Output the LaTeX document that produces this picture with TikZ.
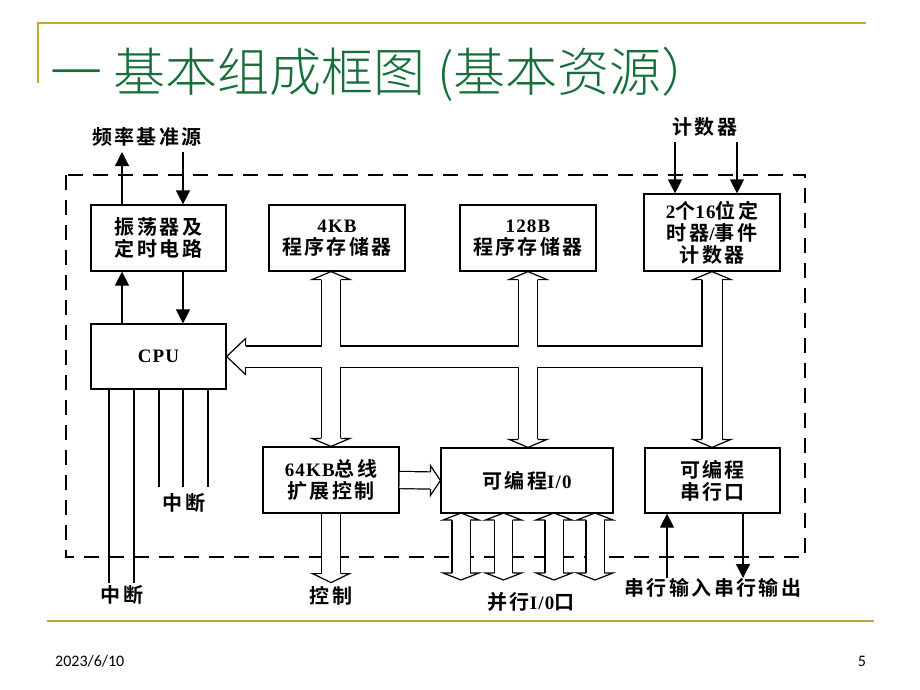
\documentclass[tikz,border=0pt]{standalone}
\usepackage{fontspec}
\newfontfamily\lbl{Noto Sans CJK SC}[UprightFont={* Bold},LetterSpace=12]
\newfontfamily\ttlfont{Noto Sans CJK SC}[UprightFont={* Light}]
\newfontfamily\latb{Liberation Serif}[UprightFont={* Bold},LetterSpace=6]
\newfontfamily\footfont{Carlito}
\usetikzlibrary{arrows.meta,calc,positioning}
\definecolor{titlegreen}{RGB}{22,110,56}
\definecolor{rulegold}{RGB}{196,168,48}
\newcommand\ltn[1]{{\latb\fontsize{19}{22}\selectfont #1}}
% hollow bus head: tip, angle, length, half width, band half width
\newcommand\bushead[5]{%
  \fill[white,shift={#1},rotate=#2] (0,0) -- (-#3,-#4) -- (-#3,#4) -- cycle;
  \draw[bus edge,shift={#1},rotate=#2] (-#3,-#5) -- (-#3,-#4) -- (0,0) -- (-#3,#4) -- (-#3,#5);}

\begin{document}
\begin{tikzpicture}[x=1pt,y=-1pt,
    blk/.style={draw, line width=1.2pt, align=center, inner sep=0pt, font=\lbl\fontsize{20}{22}\selectfont},
    tag/.style={font=\lbl\fontsize{20}{22}\selectfont, inner sep=0pt},
    sig/.style={line width=1.2pt, -{Triangle[length=14pt,width=14pt]}},
    wire/.style={line width=1.2pt},
    bus edge/.style={line width=1.2pt, line join=miter},
    busline/.style={line width=#1+2.4pt},
    busfill/.style={white, line width=#1},
    dashframe/.style={dash pattern=on 15pt off 10pt, line width=1.3pt},
    goldrule/.style={rulegold, line width=2.5pt}
]
    \useasboundingbox (0,0) rectangle (920,690);

    % Slide frame
    \draw[goldrule] (38,83) -- (38,23) -- (866,23);
    \draw[goldrule] (47,621) -- (874,621);
    \node[anchor=base west, font=\ttlfont\fontsize{52}{52}\selectfont, text=titlegreen, inner sep=0pt] (ttl) at (50,92) {一 基本组成框图 (基本资源）};
    \node[anchor=west, font=\footfont\fontsize{16}{16}\selectfont, inner sep=0pt] (date) at (55,661) {2023/6/10};
    \node[font=\footfont\fontsize{16}{16}\selectfont, inner sep=0pt] (page) at (862,661) {5};

    % Chip border
    \draw[dashframe] (66,175) rectangle (805,557);

    % Blocks
    \node[blk, minimum width=135pt, minimum height=66pt] (osc) at (158.5,238) {振荡器及\\定时电路};
    \node[blk, minimum width=135pt, minimum height=65pt] (cpu) at (158.5,356.5) {\ltn{CPU}};
    \node[blk, minimum width=136pt, minimum height=66pt] (rom) at (337,238) {\ltn{4KB}\\程序存储器};
    \node[blk, minimum width=136pt, minimum height=66pt] (ram) at (528,238) {\ltn{128B}\\程序存储器};
    \node[blk, minimum width=136pt, minimum height=77pt] (timer) at (712,232.5) {\ltn{2}个\ltn{16}位定\\时器\ltn{/}事件\\计数器};
    \node[blk, minimum width=136pt, minimum height=66pt] (ext) at (331,480) {\ltn{64KB}总线\\扩展控制};
    \node[blk, minimum width=172pt, minimum height=65pt] (pio) at (527,480.5) {可编程\ltn{I/0}};
    \node[blk, minimum width=135pt, minimum height=65pt] (sio) at (712.5,480.5) {可编程\\串行口};

    % Outside signals
    \node[tag] (freq) at (147,137) {频率基准源};
    \node[tag] (cnt) at (705,127) {计数器};
    \node[tag] (int1) at (122,595) {中断};
    \node[tag] (int2) at (184,503) {中断};
    \node[tag] (ctl) at (331,596) {控制};
    \node[tag] (par) at (531,602) {并行\ltn{I/0}口};
    \node[tag] (ser) at (713,588) {串行输入串行输出};

    \coordinate (fup) at (122,152);
    \coordinate (fdn) at (183,152);
    \coordinate (c1) at (675,142);
    \coordinate (c2) at (737,142);
    \coordinate (sin) at (667,578);
    \coordinate (sout) at (743,578);

    \draw[sig] (osc.north -| fup) -- (fup);
    \draw[sig] (fdn) -- (osc.north -| fdn);
    \draw[sig] (cpu.north -| fup) -- (osc.south -| fup);
    \draw[sig] (osc.south -| fdn) -- (cpu.north -| fdn);
    \draw[sig] (c1) -- (timer.north -| c1);
    \draw[sig] (c2) -- (timer.north -| c2);
    \draw[sig] (sin) -- (sio.south -| sin);
    \draw[sig] (sio.south -| sout) -- (sout);
    \foreach \x/\y in {109/583,134/583,159/487,183/487,208/487}
        \draw[wire] (cpu.south -| \x,\y) -- (\x,\y);

    % Buses
    \coordinate (hb) at ($(cpu.east)+(19,0)$);
    \coordinate (hj) at (timer.south |- cpu.east);
    \coordinate (ra) at ($(rom.south -| ext.north)+(0,8)$);
    \coordinate (rb) at ($(ext.north)+(0,-8)$);
    \coordinate (ma) at ($(ram.south)+(0,8)$);
    \coordinate (mb) at ($(ram.south |- pio.north)+(0,-8)$);
    \coordinate (ta) at ($(timer.south)+(0,8)$);
    \coordinate (tb) at ($(sio.north -| timer.south)+(0,-8)$);
    \coordinate (eb) at ($(pio.west)+(-10,0)$);
    \coordinate (dt) at ($(ext.south)+(0,69)$);
    \coordinate (db) at ($(dt)+(0,-9)$);

    \draw[busline=20pt] (hb) -- (hj);
    \draw[busline=18pt] (ra) -- (rb);
    \draw[busline=18pt] (ma) -- (mb);
    \draw[busline=19pt] (ta) -- (tb);
    \draw[busline=16pt] (ext.east) -- (eb);
    \draw[busline=18pt] (ext.south) -- (db);
    \foreach \x in {461,503.5,554,595}
        \draw[busline=17pt] (\x,520) -- (\x,573);

    \draw[busfill=20pt] (hb) -- (hj);
    \draw[busfill=18pt] (ra) -- (rb);
    \draw[busfill=18pt] (ma) -- (mb);
    \draw[busfill=19pt] (ta) -- (tb);
    \draw[busfill=16pt] (ext.east) -- (eb);
    \draw[busfill=18pt] (ext.south) -- (db);
    \foreach \x in {461,503.5,554,595}
        \draw[busfill=17pt] (\x,520) -- (\x,573);

    \bushead{(cpu.east)}{180}{19}{18}{10.6}
    \bushead{(rom.south -| ext.north)}{90}{8}{19}{9.6}
    \bushead{(ext.north)}{-90}{8}{19}{9.6}
    \bushead{(ram.south)}{90}{8}{19}{9.6}
    \bushead{(ram.south |- pio.north)}{-90}{8}{19}{9.6}
    \bushead{(timer.south)}{90}{8}{19}{10.1}
    \bushead{(sio.north -| timer.south)}{-90}{8}{19}{10.1}
    \bushead{(pio.west)}{0}{10}{15}{8.6}
    \bushead{(dt)}{-90}{9}{18.5}{9.6}
    \foreach \x in {461,503.5,554,595}{
        \bushead{(\x,513)}{90}{7}{18}{9.1}
        \bushead{(\x,580)}{-90}{7}{18}{9.1}
    }
\end{tikzpicture}
\end{document}
